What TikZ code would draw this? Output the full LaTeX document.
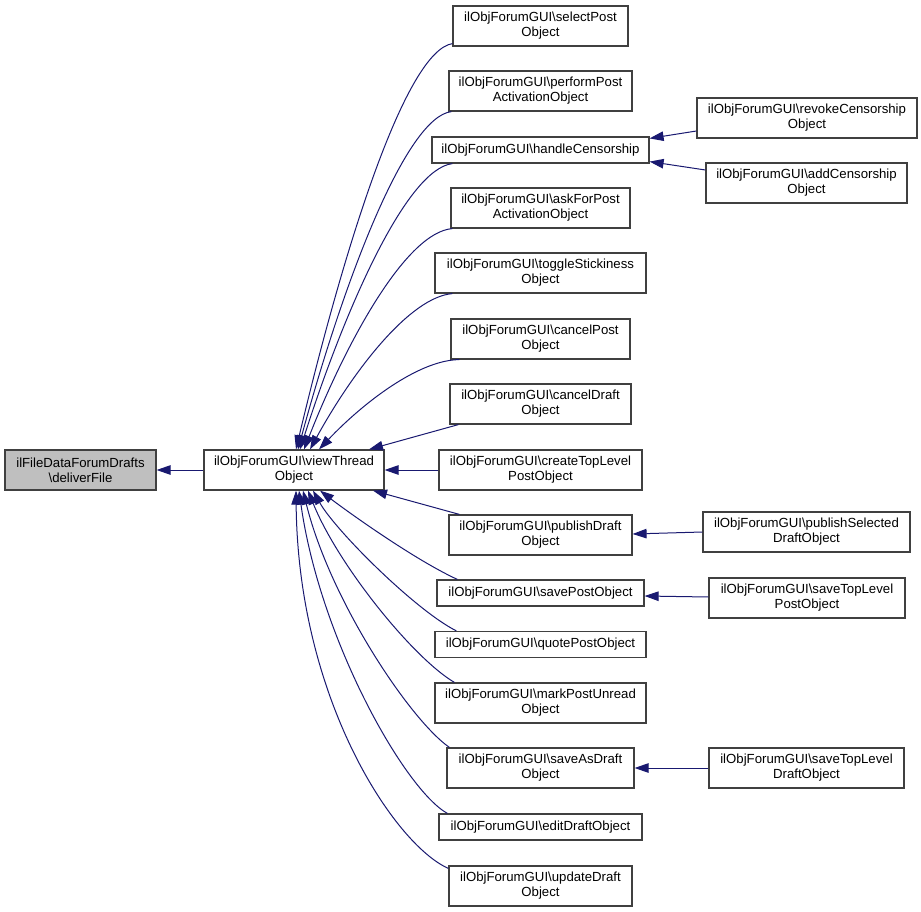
\documentclass[tikz,border=0pt]{standalone}
\usepackage{fontspec}
\setmainfont{Liberation Sans}
\usetikzlibrary{arrows.meta,calc}
\definecolor{edgeblue}{HTML}{191970}
\definecolor{boxline}{HTML}{404040}
\definecolor{boxfill}{HTML}{BFBFBF}
\begin{document}
\begin{tikzpicture}[x=1pt,y=-1pt,
  box/.style={draw=boxline, line width=1.2pt, fill=white, inner sep=0pt, align=center,
              font=\fontsize{13.2}{15}\selectfont},
  edge/.style={draw=edgeblue, line width=1pt, -{Triangle[length=14pt,width=9.5pt]}}]
\useasboundingbox (0,0) rectangle (921,912);

% main nodes
\node[box, fill=boxfill, minimum width=151pt, minimum height=40pt] (A) at (80.5,470) {ilFileDataForumDrafts\\\textbackslash deliverFile};
\node[box, minimum width=180pt, minimum height=40pt] (B) at (294,470) {ilObjForumGUI\textbackslash viewThread\\Object};

% column 2
\node[box, minimum width=175pt, minimum height=40pt] (sel) at (540.5,26) {ilObjForumGUI\textbackslash selectPost\\Object};
\node[box, minimum width=183pt, minimum height=40pt] (perf) at (540.5,91) {ilObjForumGUI\textbackslash performPost\\ActivationObject};
\node[box, minimum width=217pt, minimum height=26pt] (hand) at (540.5,150) {ilObjForumGUI\textbackslash handleCensorship};
\node[box, minimum width=179pt, minimum height=40pt] (ask) at (540.5,208) {ilObjForumGUI\textbackslash askForPost\\ActivationObject};
\node[box, minimum width=211pt, minimum height=40pt] (tog) at (540.5,273) {ilObjForumGUI\textbackslash toggleStickiness\\Object};
\node[box, minimum width=179pt, minimum height=40pt] (cp) at (540.5,339) {ilObjForumGUI\textbackslash cancelPost\\Object};
\node[box, minimum width=181pt, minimum height=40pt] (cd) at (540.5,404) {ilObjForumGUI\textbackslash cancelDraft\\Object};
\node[box, minimum width=203pt, minimum height=40pt] (ctl) at (540.5,470) {ilObjForumGUI\textbackslash createTopLevel\\PostObject};
\node[box, minimum width=183pt, minimum height=40pt] (pd) at (540.5,535) {ilObjForumGUI\textbackslash publishDraft\\Object};
\node[box, minimum width=207pt, minimum height=26pt] (sp) at (540.5,593) {ilObjForumGUI\textbackslash savePostObject};
\node[box, minimum width=211pt, minimum height=26pt] (qp) at (540.5,644.5) {ilObjForumGUI\textbackslash quotePostObject};
\node[box, minimum width=211pt, minimum height=40pt] (mpu) at (540.5,703) {ilObjForumGUI\textbackslash markPostUnread\\Object};
\node[box, minimum width=187pt, minimum height=40pt] (sad) at (540.5,768) {ilObjForumGUI\textbackslash saveAsDraft\\Object};
\node[box, minimum width=203pt, minimum height=26pt] (ed) at (540.5,827) {ilObjForumGUI\textbackslash editDraftObject};
\node[box, minimum width=183pt, minimum height=40pt] (ud) at (540.5,886) {ilObjForumGUI\textbackslash updateDraft\\Object};

% column 3
\node[box, minimum width=220pt, minimum height=40pt] (rev) at (807,118) {ilObjForumGUI\textbackslash revokeCensorship\\Object};
\node[box, minimum width=201pt, minimum height=40pt] (add) at (806.5,183) {ilObjForumGUI\textbackslash addCensorship\\Object};
\node[box, minimum width=207pt, minimum height=40pt] (pubsel) at (806.5,532) {ilObjForumGUI\textbackslash publishSelected\\DraftObject};
\node[box, minimum width=196pt, minimum height=40pt] (stlp) at (807,598) {ilObjForumGUI\textbackslash saveTopLevel\\PostObject};
\node[box, minimum width=195pt, minimum height=40pt] (stld) at (806.5,768) {ilObjForumGUI\textbackslash saveTopLevel\\DraftObject};

% edges
\draw[edge] (B.west) -- (A.east);

\draw[edge] ($(sel.south west)+(0,-3)$) .. controls (406,51) and (345,243) .. ($(B.north)+(2,0)$);
\draw[edge] ($(perf.south west)+(3,0)$) .. controls (406,117) and (344,280) .. ($(B.north)+(4,0)$);
\draw[edge] ($(hand.south west)+(21,0)$) .. controls (407,169) and (346,306) .. ($(B.north)+(6,0)$);
\draw[edge] ($(ask.south west)+(2,0)$) .. controls (407,232) and (348,338) .. ($(B.north)+(10,0)$);
\draw[edge] ($(tog.south west)+(18,0)$) .. controls (410,297) and (353,371) .. ($(B.north)+(16,0)$);
\draw[edge] ($(cp.south west)+(9,0)$) .. controls (418,360) and (362,404) .. ($(B.north)+(25,0)$);
\draw[edge] ($(cd.south west)+(9,0)$) -- ($(B.north)+(75,0)$);
\draw[edge] (ctl.west) -- (B.east);
\draw[edge] ($(pd.north west)+(11,0)$) -- ($(B.south)+(79,0)$);
\draw[edge] ($(sp.north west)+(21,0)$) .. controls (415,560) and (348,512) .. ($(B.south)+(26,0)$);
\draw[edge] ($(qp.north west)+(22,0)$) .. controls (415,610) and (335,530) .. ($(B.south)+(19,0)$);
\draw[edge] ($(mpu.north west)+(20,0)$) .. controls (413,658) and (338,565) .. ($(B.south)+(14,0)$);
\draw[edge] ($(sad.north west)+(3,0)$) .. controls (410,720) and (330,600) .. ($(B.south)+(9,0)$);
\draw[edge] ($(ed.north west)+(9,0)$) .. controls (405,790) and (320,640) .. ($(B.south)+(5,0)$);
\draw[edge] ($(ud.north west)+(0,3)$) .. controls (395,845) and (298,700) .. ($(B.south)+(2,0)$);

\draw[edge] ($(rev.west)+(0,13)$) -- ($(hand.north east)+(0,2)$);
\draw[edge] ($(add.west)+(0,-13)$) -- ($(hand.south east)+(0,-2)$);
\draw[edge] (pubsel.west) -- ($(pd.east)+(0,-1)$);
\draw[edge] ($(stlp.west)+(0,-1)$) -- ($(sp.east)+(0,3)$);
\draw[edge] (stld.west) -- (sad.east);
\end{tikzpicture}
\end{document}
